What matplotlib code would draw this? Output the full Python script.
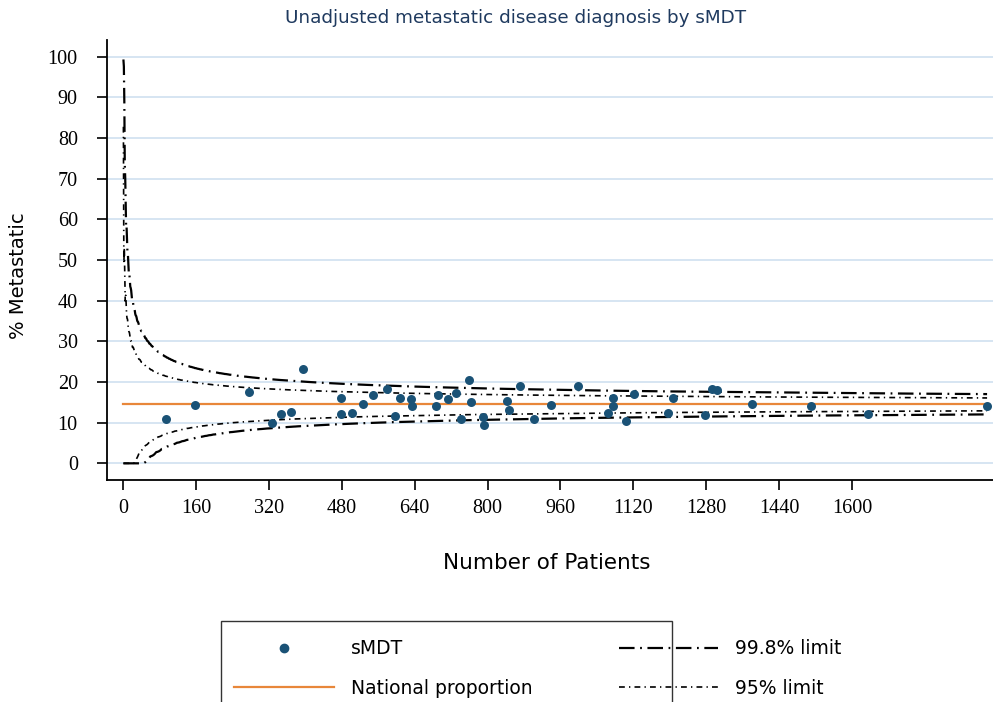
import math
import numpy as np
import matplotlib
matplotlib.use("Agg")
import matplotlib.pyplot as plt
from matplotlib.lines import Line2D
from matplotlib.patches import Rectangle

# sMDT units: number of patients and % metastatic
patients = [94, 157, 276, 326, 346, 369, 396, 479, 479, 502, 527, 549, 580, 596,
            608, 632, 635, 686, 692, 714, 730, 741, 760, 764, 791, 793, 842, 846,
            871, 901, 939, 999, 1065, 1076, 1076, 1103, 1122, 1196, 1206, 1276,
            1293, 1303, 1380, 1510, 1634, 1896]
pct_metastatic = [10.9, 14.3, 17.5, 9.8, 12.1, 12.7, 23.1, 16.0, 12.1, 12.4, 14.7,
                  16.8, 18.3, 11.6, 16.0, 15.7, 14.1, 14.1, 16.7, 15.7, 17.4, 10.8,
                  20.5, 15.0, 11.3, 9.5, 15.4, 13.2, 19.0, 10.9, 14.4, 19.0, 12.4,
                  16.0, 14.1, 10.5, 17.0, 12.4, 16.0, 11.8, 18.3, 18.0, 14.6, 14.1,
                  12.1, 14.1]
national_pct = 14.5
limit_probs = {"99.8": 0.001, "95": 0.025}

x_ticks = list(range(0, 1601, 160))
y_ticks = list(range(0, 101, 10))

POINT_COL = "#1a5276"
ORANGE = "#e8873a"
GRID_COL = "#cfe0f0"
TITLE_COL = "#1f3a5f"
SANS = ["DejaVu Sans"]
SERIF = ["Liberation Serif", "DejaVu Serif"]

# exact binomial control limits (interpolated between integer counts)
n_max = max(patients)
logfact = np.concatenate([[0.0], np.cumsum(np.log(np.arange(1, n_max + 1)))])
p = national_pct / 100.0


def binom_limit(n, prob):
    k = np.arange(n + 1)
    logpmf = logfact[n] - logfact[k] - logfact[n - k] + k * math.log(p) + (n - k) * math.log1p(-p)
    cdf = np.cumsum(np.exp(logpmf))
    r = min(int(np.searchsorted(cdf, prob)), n)
    f_r = cdf[r]
    f_prev = cdf[r - 1] if r > 0 else 0.0
    alpha = (f_r - prob) / (f_r - f_prev)
    return min(max((r - alpha) / n, 0.0), 1.0) * 100


ns = np.arange(1, n_max + 1)
limits = {}
for key, lo in limit_probs.items():
    limits[key] = (np.array([binom_limit(n, lo) for n in ns]),
                   np.array([binom_limit(n, 1 - lo) for n in ns]))

fig = plt.figure(figsize=(9.93, 7.02), dpi=100)
ax = fig.add_axes([107 / 993, 1 - 480 / 702, 886 / 993, 440 / 702])

for y in y_ticks:
    ax.axhline(y, color=GRID_COL, lw=1.2, zorder=0)

ls_998 = (0, (7, 2.5, 0.8, 2.5))
ls_95 = (0, (3.5, 2.5, 0.8, 2.5))
lo998, hi998 = limits["99.8"]
lo95, hi95 = limits["95"]
ax.plot(ns, hi998, color="black", lw=1.6, linestyle=ls_998, zorder=2)
ax.plot(ns, lo998, color="black", lw=1.6, linestyle=ls_998, zorder=2)
ax.plot(ns, hi95, color="black", lw=1.2, linestyle=ls_95, zorder=2)
ax.plot(ns, lo95, color="black", lw=1.2, linestyle=ls_95, zorder=2)
ax.plot([1, n_max], [national_pct, national_pct], color=ORANGE, lw=1.6, zorder=3)
ax.scatter(patients, pct_metastatic, s=42, color=POINT_COL, zorder=4, linewidths=0)

ax.set_xlim(-35, 1909)
ax.set_ylim(-4.1, 104.1)
ax.set_xticks(x_ticks)
ax.set_yticks(y_ticks)
for lab in ax.get_xticklabels() + ax.get_yticklabels():
    lab.set_fontfamily(SERIF)
    lab.set_fontsize(14.5)
ax.tick_params(axis="both", length=7, width=1.2, direction="out")
ax.tick_params(axis="x", pad=7)
ax.tick_params(axis="y", pad=14)
ax.spines["top"].set_visible(False)
ax.spines["right"].set_visible(False)
ax.spines["left"].set_linewidth(1.3)
ax.spines["bottom"].set_linewidth(1.3)

ax.set_xlabel("Number of Patients", family=SANS, fontsize=15.5)
ax.xaxis.set_label_coords((547 - 107) / 886, (480 - 553) / 440)
ax.set_ylabel("% Metastatic", family=SANS, fontsize=14, va="center")
ax.yaxis.set_label_coords((19 - 107) / 886, (480 - 276) / 440)

fig.text(516 / 993, 1 - 18 / 702, "Unadjusted metastatic disease diagnosis by sMDT",
         family=SANS, fontsize=13.2, color=TITLE_COL, ha="center", va="center")

handles = [
    Line2D([], [], marker="o", ls="none", color=POINT_COL, markersize=6),
    Line2D([], [], color=ORANGE, lw=1.6),
    Line2D([], [], color="black", lw=1.6, linestyle=ls_998),
    Line2D([], [], color="black", lw=1.2, linestyle=ls_95),
]
labels = ["sMDT", "National proportion", "99.8% limit", "95% limit"]
fig.legend(handles, labels, ncol=2, loc="upper left",
           bbox_to_anchor=(225 / 993, 1 - 630 / 702), frameon=False,
           prop={"family": SANS, "size": 13.5}, borderpad=0,
           handlelength=5.3, handletextpad=0.9, columnspacing=4.6, labelspacing=1.1)
fig.add_artist(Rectangle((221 / 993, 1 - 720 / 702), 451 / 993, 99 / 702,
                         transform=fig.transFigure, fill=False, lw=1.0, ec="#333333"))

fig.savefig("out.png", dpi=100)
